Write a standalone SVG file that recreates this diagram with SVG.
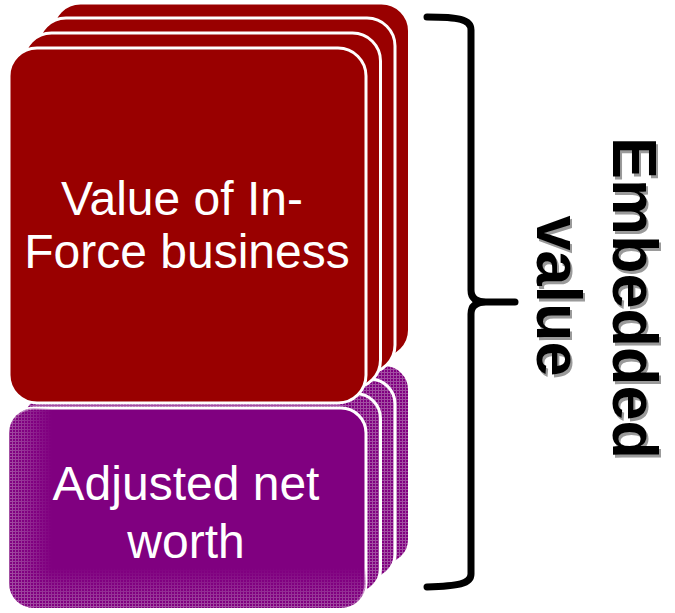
<svg xmlns="http://www.w3.org/2000/svg" width="675" height="613" viewBox="0 0 675 613">
<style>
.red{fill:#990000;stroke:#ffffff;stroke-width:3}
.pur{fill:#800080;stroke:#ffffff;stroke-width:3}
.tex{fill:url(#tex);stroke:#ffffff;stroke-width:3}
.lbl{font-family:"Liberation Sans",Arial,sans-serif;font-size:48px;fill:#ffffff;text-anchor:middle}
.ev{font-family:"Liberation Sans",Arial,sans-serif;font-size:63px;font-weight:bold;text-anchor:middle}
.brace{fill:none;stroke:#000000;stroke-width:7;stroke-linecap:round;stroke-linejoin:round}
</style>
<defs>
<pattern id="tex" width="3" height="3" patternUnits="userSpaceOnUse">
<rect width="3" height="3" fill="#800080"/>
<rect width="3" height="1" fill="#a24ea2"/>
<rect width="1" height="3" fill="#a24ea2"/>
</pattern>
<linearGradient id="gl" x1="0" y1="0" x2="1" y2="0">
<stop offset="0" stop-color="#fff"/>
<stop offset="0.12" stop-color="#000"/>
</linearGradient>
<linearGradient id="gb" x1="0" y1="0" x2="0" y2="1">
<stop offset="0.8" stop-color="#000"/>
<stop offset="1" stop-color="#fff"/>
</linearGradient>
<mask id="ml" maskUnits="userSpaceOnUse" x="0" y="400" width="400" height="213"><rect x="9" y="408" width="357" height="200" fill="url(#gl)"/></mask>
<mask id="mb" maskUnits="userSpaceOnUse" x="0" y="400" width="400" height="213"><rect x="9" y="408" width="357" height="200" fill="url(#gb)"/></mask>
</defs>

<g id="adjusted-net-worth-back">
<rect class="tex" x="52.5" y="364.5" width="357" height="200" rx="25"/>
<rect class="tex" x="38" y="379" width="357" height="200" rx="25"/>
<rect class="tex" x="23.5" y="393.5" width="357" height="200" rx="25"/>
</g>

<g id="value-in-force">
<rect class="red" x="52.5" y="3" width="357" height="355" rx="28"/>
<rect class="red" x="38" y="18" width="357" height="355" rx="28"/>
<rect class="red" x="23.5" y="33" width="357" height="355" rx="28"/>
<rect class="red" x="9" y="48" width="357" height="355" rx="28"/>
<text class="lbl" x="182" y="215">Value of In-</text>
<text class="lbl" x="187" y="268">Force business</text>
</g>

<g id="adjusted-net-worth">
<rect class="pur" x="9" y="408" width="357" height="200" rx="25"/>
<rect x="9" y="408" width="357" height="200" rx="25" fill="url(#tex)" mask="url(#ml)"/>
<rect x="9" y="408" width="357" height="200" rx="25" fill="url(#tex)" mask="url(#mb)"/>
<text class="lbl" x="186" y="500">Adjusted net</text>
<text class="lbl" x="186" y="558">worth</text>
</g>

<g id="connectors">
<path class="brace" d="M427,17 C458,17 471,19 471,30 L471,290 Q471,302 486,302 L515,302 M486,302 Q471,302 471,314 L471,574 C471,584 458,586 427,587"/>
</g>

<g id="embedded-value">
<g transform="translate(2,3)" fill="#9a9a9a">
<text class="ev" transform="translate(613,298) rotate(90)">Embedded</text>
<text class="ev" transform="translate(537,296) rotate(90)">value</text>
</g>
<g fill="#000000">
<text class="ev" transform="translate(613,298) rotate(90)">Embedded</text>
<text class="ev" transform="translate(537,296) rotate(90)">value</text>
</g>
</g>
</svg>
